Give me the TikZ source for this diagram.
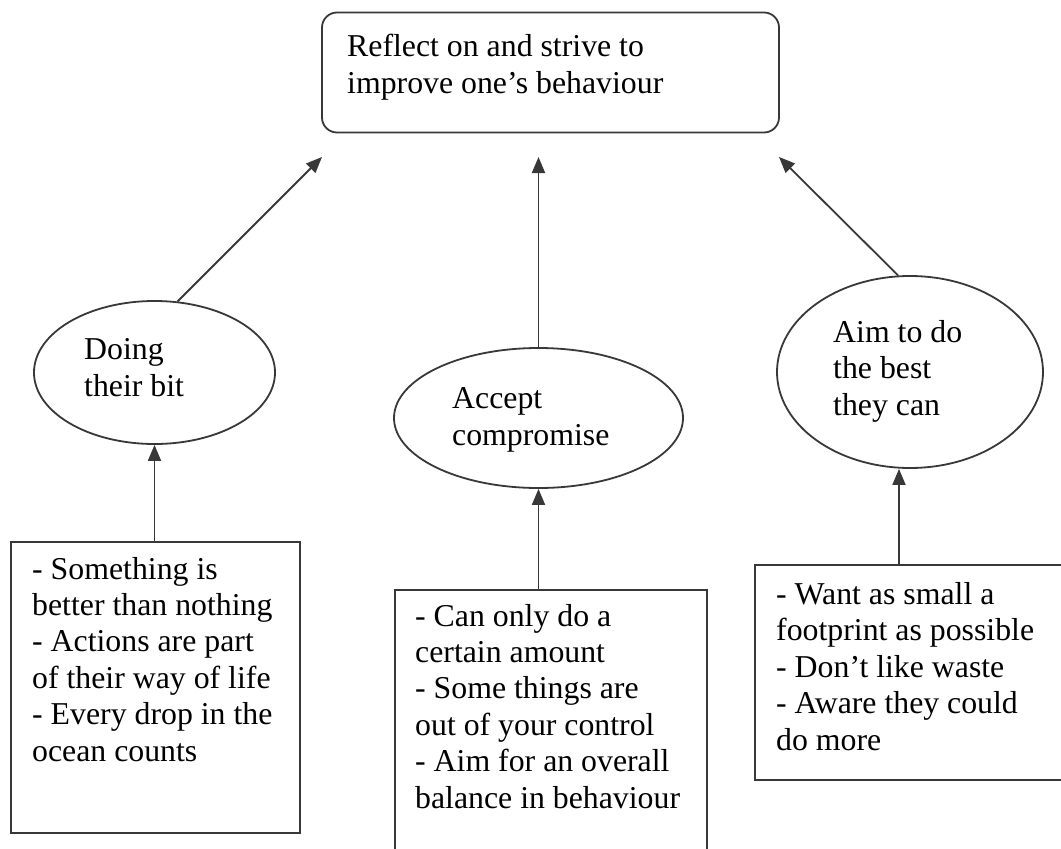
\documentclass[tikz,border=0pt]{standalone}
\usepackage{fontspec}
\setmainfont{Liberation Serif}
\usetikzlibrary{arrows.meta,shapes.geometric}
\definecolor{ln}{HTML}{383838}
\tikzset{
  every node/.style={font=\fontsize{31.8pt}{36.4pt}\selectfont},
  txt/.style={inner sep=0pt, align=left, anchor=base west, text=black},
  topbox/.style={draw=ln, line width=1.8pt, rounded corners=15pt, minimum width=457pt, minimum height=120pt, inner sep=0pt},
  ell/.style={draw=ln, line width=1.8pt, ellipse, inner sep=0pt},
  listbox/.style={draw=ln, line width=1.8pt, rectangle, anchor=north west, inner sep=0pt},
  arr/.style={draw=ln, line width=1.8pt, -{Triangle[length=16pt,width=13pt]}}
}
\begin{document}
\begin{tikzpicture}[x=1pt,y=-1pt]
\clip (0,0) rectangle (1061,849);
\fill[white] (0,0) rectangle (1061,849);
% top box
\node[topbox] (top) at (550.5,72.5) {};
\node[txt] (topT) at (347,93) {Reflect on and strive to\\improve one’s behaviour};
% ellipses
\node[ell, minimum width=241pt, minimum height=143pt] (eL) at (154.5,372.5) {};
\node[txt] (eLT) at (84,396) {Doing\\their bit};
\node[ell, minimum width=289pt, minimum height=140pt] (eM) at (538.5,418) {};
\node[txt] (eMT) at (452,445) {Accept\\compromise};
\node[ell, minimum width=266pt, minimum height=192pt] (eR) at (910,372) {};
\node[txt] (eRT) at (833,415) {Aim to do\\the best\\they can};
% bottom boxes
\node[listbox, minimum width=289pt, minimum height=291pt] (bL) at (10,541) {};
\node[txt] (bLT) at (32,761) {- Something is\\better than nothing\\- Actions are part\\of their way of life\\- Every drop in the\\ocean counts};
\node[listbox, minimum width=312pt, minimum height=300pt] (bM) at (394,589) {};
\node[txt] (bMT) at (415,808) {- Can only do a\\certain amount\\- Some things are\\out of your control\\- Aim for an overall\\balance in behaviour};
\node[listbox, minimum width=330pt, minimum height=215pt] (bR) at (754,564) {};
\node[txt] (bRT) at (776,750) {- Want as small a\\footprint as possible\\- Don’t like waste\\- Aware they could\\do more};
% arrow tips near top box
\coordinate (tL) at (322,157);
\coordinate (tM) at (538.5,157);
\coordinate (tR) at (779,157);
\coordinate (aR) at (899,564);
% connectors
\draw[arr] (eL.72) -- (tL);
\draw[arr] (eM.north) -- (tM);
\draw[arr] (eR.97) -- (tR);
\draw[arr] (eL.south |- bL.north) -- (eL.south);
\draw[arr] (eM.south |- bM.north) -- (eM.south);
\draw[arr] (aR) -- (aR |- eR.south);
\end{tikzpicture}
\end{document}
